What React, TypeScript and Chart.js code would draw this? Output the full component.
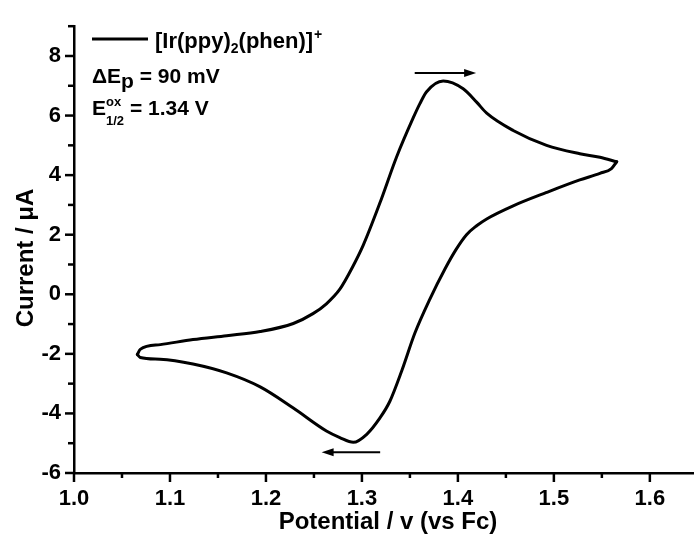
import React, { useEffect, useRef } from "react";
import { Chart, registerables } from "chart.js";

Chart.register(...registerables);

const FONT = '"Liberation Sans", Arial, Helvetica, sans-serif';

// Cyclic voltammogram, forward (anodic) scan: 1.066 V -> 1.5655 V
const forwardPotential = [
  1.066, 1.069, 1.090, 1.124, 1.159, 1.194, 1.2285, 1.249, 1.263, 1.277, 1.290, 1.3014,
  1.3188, 1.3361, 1.3534, 1.3604, 1.3674, 1.3847, 1.4055, 1.4195, 1.430, 1.4576, 1.4924,
  1.527, 1.548, 1.5655,
];
const forwardCurrent = [
  -2.02, -1.85, -1.69, -1.52, -1.39, -1.25, -0.98, -0.65, -0.32, 0.17, 0.90, 1.65,
  3.07, 4.61, 5.92, 6.40, 6.80, 7.16, 6.90, 6.45, 6.08, 5.50, 5.00,
  4.72, 4.60, 4.45,
];
// reverse (cathodic) scan: 1.5655 V -> 1.066 V
const reversePotential = [
  1.5655, 1.560, 1.548, 1.527, 1.4924, 1.4576, 1.430, 1.4195, 1.409, 1.398, 1.3865, 1.3708,
  1.3552, 1.3417, 1.329, 1.3188, 1.305, 1.291, 1.277, 1.263, 1.2285, 1.194, 1.159, 1.124,
  1.0896, 1.069, 1.066,
];
const reverseCurrent = [
  4.45, 4.22, 4.06, 3.84, 3.42, 2.97, 2.53, 2.30, 2.00, 1.50, 0.85, -0.16,
  -1.30, -2.55, -3.60, -4.15, -4.70, -4.97, -4.81, -4.59, -3.82, -3.11, -2.64, -2.34,
  -2.18, -2.12, -2.02,
];

const xMajorTicks = [1.0, 1.1, 1.2, 1.3, 1.4, 1.5, 1.6];
const xMinorTicks = [1.05, 1.15, 1.25, 1.35, 1.45, 1.55];
const yMajorTicks = [-6, -4, -2, 0, 2, 4, 6, 8];
const yMinorTicks = [-5, -3, -1, 1, 3, 5, 7, 9];

// scan-direction arrows (data coordinates)
const arrowTailX = [1.355, 1.319];
const arrowHeadX = [1.419, 1.258];
const arrowY = [7.43, -5.3];

const xTitle = "Potential / v (vs Fc)";
const yTitle = "Current / \u03BCA";
const legendMain = ["[Ir(ppy)", "2", "(phen)]", "+"];
const deltaLabel = ["\u0394E", "p", " = 90 mV"];
const halfLabel = ["E", "ox", "1/2", " = 1.34 V"];

const overlayPlugin = {
  id: "overlay",
  afterDraw(chart: any) {
    const { ctx, chartArea, scales } = chart;
    const x = scales.x;
    const y = scales.y;
    ctx.save();
    ctx.strokeStyle = "#000";
    ctx.fillStyle = "#000";
    ctx.lineCap = "butt";
    ctx.lineWidth = 2.5;
    const L = chartArea.left;
    const B = chartArea.bottom;
    const seg = (x1: number, y1: number, x2: number, y2: number) => {
      ctx.beginPath();
      ctx.moveTo(x1, y1);
      ctx.lineTo(x2, y2);
      ctx.stroke();
    };
    yMajorTicks.forEach((v) => {
      const p = y.getPixelForValue(v);
      seg(L - 9, p, L, p);
    });
    yMinorTicks.forEach((v) => {
      const p = y.getPixelForValue(v);
      seg(L - 6, p, L, p);
    });
    xMajorTicks.forEach((v) => {
      const p = x.getPixelForValue(v);
      seg(p, B, p, B + 9);
    });
    xMinorTicks.forEach((v) => {
      const p = x.getPixelForValue(v);
      seg(p, B, p, B + 5);
    });

    // arrows
    ctx.lineWidth = 2;
    arrowTailX.forEach((tx, i) => {
      const x0 = x.getPixelForValue(tx);
      const x1 = x.getPixelForValue(arrowHeadX[i]);
      const py = y.getPixelForValue(arrowY[i]);
      const dir = Math.sign(x1 - x0);
      const headLen = 12;
      seg(x0, py, x1 - dir * headLen + dir, py);
      ctx.beginPath();
      ctx.moveTo(x1, py);
      ctx.lineTo(x1 - dir * headLen, py - 4);
      ctx.lineTo(x1 - dir * headLen, py + 4);
      ctx.closePath();
      ctx.fill();
    });

    // legend
    ctx.lineWidth = 3;
    seg(L + 18, 39, L + 74, 39);
    ctx.textBaseline = "alphabetic";
    ctx.textAlign = "left";
    const run = (text: string, size: number, px: number, py: number) => {
      ctx.font = `bold ${size}px ${FONT}`;
      ctx.fillText(text, px, py);
      return px + ctx.measureText(text).width;
    };
    let cx = L + 81;
    cx = run(legendMain[0], 22, cx, 48);
    cx = run(legendMain[1], 14, cx, 53);
    cx = run(legendMain[2], 22, cx, 48);
    run(legendMain[3], 14, cx + 1, 39);

    cx = L + 18;
    cx = run(deltaLabel[0], 21, cx, 83);
    cx = run(deltaLabel[1], 21, cx, 88);
    run(deltaLabel[2], 21, cx, 83);

    cx = L + 18;
    cx = run(halfLabel[0], 21, cx, 115);
    const a = run(halfLabel[1], 13, cx, 106);
    const b = run(halfLabel[2], 13, cx, 125);
    run(halfLabel[3], 21, Math.max(a, b), 115);

    // axis titles
    ctx.font = `bold 24px ${FONT}`;
    ctx.textAlign = "center";
    ctx.textBaseline = "middle";
    ctx.fillText(xTitle, (chartArea.left + chartArea.right) / 2 + 4, 522);
    ctx.translate(26, 258);
    ctx.rotate(-Math.PI / 2);
    ctx.fillText(yTitle, 0, 0);
    ctx.restore();
  },
};

export default function App() {
  const ref = useRef<HTMLCanvasElement | null>(null);
  useEffect(() => {
    document.body.style.margin = "0";
    const canvas = ref.current;
    if (!canvas) return;
    const fwd = forwardPotential.map((v, i) => ({ x: v, y: forwardCurrent[i] }));
    const rev = reversePotential.map((v, i) => ({ x: v, y: reverseCurrent[i] }));
    const tickFont = { family: FONT, size: 22, weight: "bold" as const };
    const lineStyle = {
      showLine: true,
      borderColor: "#000",
      backgroundColor: "#000",
      borderWidth: 3,
      pointRadius: 0,
      cubicInterpolationMode: "monotone" as const,
      borderCapStyle: "round" as const,
      borderJoinStyle: "round" as const,
      fill: false,
    };
    const chart = new Chart(canvas, {
      type: "scatter",
      data: {
        datasets: [
          { label: "[Ir(ppy)2(phen)]+ forward", data: fwd, ...lineStyle },
          { label: "[Ir(ppy)2(phen)]+ reverse", data: rev, ...lineStyle },
        ],
      },
      options: {
        animation: false,
        responsive: false,
        devicePixelRatio: 1,
        layout: { padding: { top: 15, right: 0, left: 0, bottom: 0 } },
        plugins: { legend: { display: false }, tooltip: { enabled: false } },
        scales: {
          x: {
            type: "linear",
            min: 1.0,
            max: 1.646,
            afterFit: (s: any) => {
              s.height = 64;
            },
            afterBuildTicks: (s: any) => {
              s.ticks = xMajorTicks.map((v) => ({ value: v }));
            },
            ticks: {
              callback: (v: any) => Number(v).toFixed(1),
              font: tickFont,
              color: "#000",
              padding: 13,
              maxRotation: 0,
              autoSkip: false,
            },
            grid: { display: false, drawTicks: false },
            border: { display: true, color: "#000", width: 2.5 },
          },
          y: {
            type: "linear",
            min: -6,
            max: 9,
            afterFit: (s: any) => {
              s.width = 74;
            },
            afterBuildTicks: (s: any) => {
              s.ticks = yMajorTicks.map((v) => ({ value: v }));
            },
            ticks: {
              callback: (v: any) => String(v),
              font: tickFont,
              color: "#000",
              padding: 13,
              autoSkip: false,
            },
            grid: { display: false, drawTicks: false },
            border: { display: true, color: "#000", width: 2.5 },
          },
        },
      },
      plugins: [overlayPlugin],
    });
    return () => chart.destroy();
  }, []);
  return <canvas ref={ref} width={694} height={537} style={{ display: "block" }} />;
}
